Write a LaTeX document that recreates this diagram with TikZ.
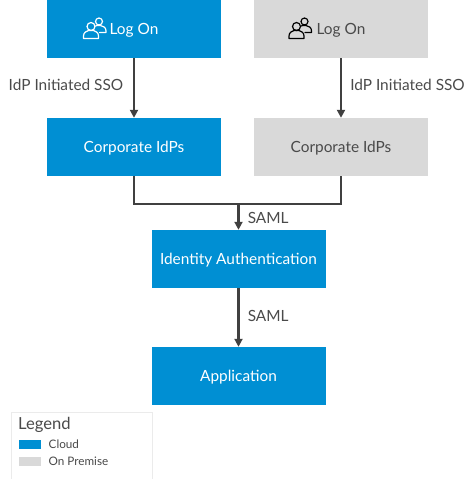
\documentclass[tikz,border=0pt]{standalone}
\usepackage{fontspec}
\setmainfont{Lato}
\usetikzlibrary{arrows.meta}
\definecolor{cloud}{HTML}{008FD3}
\definecolor{prem}{HTML}{D9D9D9}
\definecolor{ln}{HTML}{404040}
\definecolor{txt}{HTML}{4A4A4A}
\tikzset{
 box/.style={minimum width=174pt,minimum height=58pt,inner sep=0pt,text height=12pt,text depth=2pt,font=\fontsize{15.4}{17}\selectfont},
 cloudbox/.style={box,fill=cloud,text=white},
 prembox/.style={box,fill=prem,text=txt},
 conn/.style={ln,line width=2.5pt},
 arr/.style={conn,-{Triangle[width=8pt,length=8pt]}},
 lab/.style={text=txt,font=\fontsize{15.4}{17}\selectfont,inner sep=0pt},
 leglab/.style={text=txt,font=\fontsize{11.7}{13}\selectfont,inner sep=0pt,anchor=west},
 swatch/.style={minimum width=22pt,minimum height=9pt,inner sep=0pt}
}
\newcommand{\usersicon}[2]{%
 \begin{scope}[shift={(#1)},draw=#2,line width=1.2pt,line cap=round,line join=round,fill=none]
  \draw (-3.5,-2.5) circle (4pt);
  \draw (-11,9.5) -- (-11,7) .. controls (-11,3.5) and (-8,2) .. (-6,1.5) -- (-1,1.5) .. controls (1,2) and (4,3.5) .. (4,7) -- (4,9.5) -- cycle;
  \draw (4.5,-7.5) circle (3.5pt);
  \draw (1,-3) .. controls (2,-3.5) and (2.5,-3.5) .. (3,-3.5) -- (6,-3.5) .. controls (9,-3) and (11.5,-1.5) .. (11.5,2) -- (11.5,3.5) -- (5,3.5);
 \end{scope}}
\begin{document}
\begin{tikzpicture}[x=1pt,y=-1pt]
\useasboundingbox (0,0) rectangle (474,479);
\node[cloudbox] (a1) at (134,29) {Log On};
\node[prembox] (b1) at (341,29) {Log On};
\node[cloudbox] (a2) at (134,147) {Corporate IdPs};
\node[prembox] (b2) at (341,147) {Corporate IdPs};
\node[cloudbox] (c) at (238.5,259) {Identity Authentication};
\node[cloudbox] (d) at (238.5,376) {Application};
\usersicon{94.5,29}{white}
\usersicon{300,29}{black}
\coordinate (j) at (c.north |- 0,204);
\draw[arr] (a1.south) -- (a2.north) node[pos=0.45,left=9.5pt,lab]{IdP Initiated SSO};
\draw[arr] (b1.south) -- (b2.north) node[pos=0.45,right=8pt,lab]{IdP Initiated SSO};
\draw[conn,line join=miter] (a2.south) |- (j) -| (b2.south);
\draw[arr] (j) -- (c.north) node[pos=0.55,right=8pt,lab]{SAML};
\draw[arr] (c.south) -- (d.north) node[pos=0.47,right=8pt,lab]{SAML};
\node[draw=black!8,line width=0.8pt,fill=white,minimum width=141pt,minimum height=68pt,inner sep=0pt,anchor=north west] (lg) at (10.5,412) {};
\node[anchor=west,inner sep=0pt,text=txt,font=\fontsize{16.6}{18}\selectfont] (lt) at (18,425) {Legend};
\node[swatch,fill=cloud] (s1) at (30,444) {};
\node[swatch,fill=prem] (s2) at (30,461) {};
\node[leglab] (l1) at (48.5,444) {Cloud};
\node[leglab] (l2) at (48.5,461) {On Premise};
\end{tikzpicture}
\end{document}
